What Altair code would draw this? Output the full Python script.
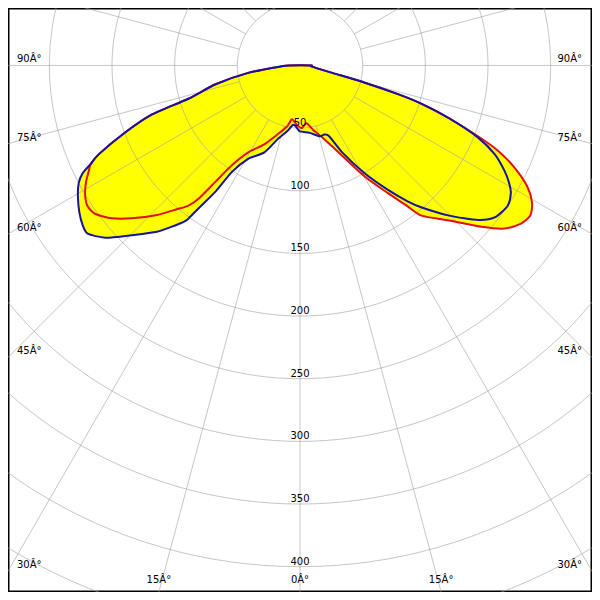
import math
import altair as alt
import pandas as pd

# ---- data (angle in degrees from nadir, intensity) ----
blue_angle = [-90, -87, -81.8, -77.4, -73.4, -71.6, -69, -66.2, -64.8, -63.6,
              -62, -59.5, -56.3, -53.6, -51.6, -48.5, -44.8, -40.7, -37.8, -36.7,
              -36.1, -35.3, -33.8, -32.6, -29, -22.3, -17, -11.1, -6.3, -1.5,
              0, 8.2, 15.4, 19.4, 22.4, 25.9, 31, 35.2, 38.3, 40.6,
              44.8, 49.1, 52, 55.9, 58.8, 60.6, 62.8, 65.5, 67.9, 70.5,
              72.5, 73.7, 75.1, 77, 85, 90]
blue_value = [9, 15.6, 41.8, 69, 93, 125.5, 149.8, 175.4, 184.5, 193.7,
              200, 205.7, 211.6, 215.3, 216.2, 207.4, 190.9, 175.1, 161.1, 156,
              151.6, 138.9, 120.9, 100.8, 85.3, 75, 61.7, 53.6, 47.7, 51.3,
              52.6, 54.4, 58.6, 58.5, 61.1, 77.1, 100.6, 121.3, 137.9, 149.3,
              168.9, 188.3, 197, 200, 196.7, 191.6, 183.3, 170.7, 153.6, 126.3,
              101.8, 80.9, 53.6, 26.5, 9, 9]

red_angle = [-90, -87, -81.8, -77.4, -73.4, -71.6, -69, -66.2, -64.8, -63.6,
             -61.2, -58.7, -56.5, -54, -50.9, -47.8, -43.7, -40.6, -38.6, -37.2,
             -36, -34.3, -30.8, -24.4, -18.2, -12, -8.5, -3.1, 1.5, 6.4,
             11.4, 17.4, 25, 30.3, 34.5, 37.3, 39, 43.9, 48.4, 51.4,
             54.3, 56.9, 59.4, 62, 64.6, 66.7, 68.3, 70.5, 72.5, 73.7,
             75.1, 77, 85, 90]
red_value = [9, 15.6, 41.8, 69, 93, 125.5, 149.8, 175.4, 184.5, 188,
             195, 200.6, 203.3, 201.7, 193.4, 181.6, 165, 151.1, 143.3, 132.7,
             114.6, 96.5, 80.8, 69.1, 58, 49.8, 43.4, 47.5, 50, 46.4,
             52.3, 60.5, 79.5, 102.8, 123.4, 140.9, 154.2, 171.7, 194, 208.7,
             216.7, 219.4, 215.1, 205.3, 189.1, 172, 152.9, 126.3, 101.8, 80.9,
             53.6, 26.5, 9, 9]

ring_values = [50, 100, 150, 200, 250, 300, 350, 400, 450]
ring_label_values = [50, 100, 150, 200, 250, 300, 350, 400]
spoke_angles = list(range(0, 360, 15))
side_label_angles = [90, 75, 60, 45, 30]
bottom_label_angles = [-15, 0, 15]

# ---- frame geometry (units of the intensity axis) ----
K = 1.2875                 # pixels per unit in the reference
XMAX = 300 / K
YTOP = 59 / K
YBOT = -541 / K
SIZE = 584


def polar(v, a):
    t = math.radians(a)
    return v * math.sin(t), -v * math.cos(t)


def curve_df(angles, values, name):
    rows = []
    for i, (a, v) in enumerate(zip(angles, values)):
        x, y = polar(v, a)
        rows.append({"i": i, "x": x, "y": y, "curve": name})
    return pd.DataFrame(rows)


blue = curve_df(blue_angle, blue_value, "blue")
red = curve_df(red_angle, red_value, "red")
both = pd.concat([red, blue], ignore_index=True)

ring_rows = []
for r in ring_values:
    for j, phi in enumerate(range(0, 360, 2)):
        x, y = polar(r, phi)
        ring_rows.append({"ring": r, "j": j, "x": x, "y": y})
rings = pd.DataFrame(ring_rows)

spoke_rows = []
for a in spoke_angles:
    x1, y1 = polar(ring_values[0], a)
    x2, y2 = polar(800, a)
    spoke_rows.append({"x": x1, "y": y1, "x2": x2, "y2": y2})
spokes = pd.DataFrame(spoke_rows)

ring_lab = pd.DataFrame({"x": [0.0] * len(ring_label_values),
                         "y": [-r for r in ring_label_values],
                         "t": [str(r) for r in ring_label_values]})

left_rows, right_rows, bottom_rows = [], [], []
for a in side_label_angles:
    t = XMAX / math.sin(math.radians(a))
    y = -t * math.cos(math.radians(a))
    left_rows.append({"x": -XMAX, "y": y, "t": f"{a}Â°"})
    right_rows.append({"x": XMAX, "y": y, "t": f"{a}Â°"})
for a in bottom_label_angles:
    t = -YBOT / math.cos(math.radians(a))
    bottom_rows.append({"x": t * math.sin(math.radians(a)), "y": YBOT, "t": f"{abs(a)}Â°"})
left_lab = pd.DataFrame(left_rows)
right_lab = pd.DataFrame(right_rows)
bottom_lab = pd.DataFrame(bottom_rows)

xs = alt.Scale(domain=[-XMAX, XMAX], nice=False, zero=False)
ys = alt.Scale(domain=[YBOT, YTOP], nice=False, zero=False)
X = alt.X("x:Q", scale=xs, axis=None)
Y = alt.Y("y:Q", scale=ys, axis=None)

INTERP = dict(interpolate="cardinal-closed", tension=0.3)

fill = alt.Chart(both).mark_line(
    fill="#FFFF00", strokeOpacity=0, clip=True, **INTERP
).encode(x=X, y=Y, order="i:Q", detail="curve:N")

ring_layer = alt.Chart(rings).mark_line(
    interpolate="linear-closed", color="#A0A0A0", strokeWidth=1, opacity=0.6, clip=True
).encode(x=X, y=Y, order="j:Q", detail="ring:N")

spoke_layer = alt.Chart(spokes).mark_rule(
    color="#A0A0A0", strokeWidth=1, opacity=0.6, clip=True
).encode(x=X, y=Y, x2="x2:Q", y2="y2:Q")

red_line = alt.Chart(red).mark_line(
    color="#E01010", strokeWidth=2, clip=True, **INTERP
).encode(x=X, y=Y, order="i:Q")

blue_line = alt.Chart(blue).mark_line(
    color="#1414A0", strokeWidth=2, clip=True, **INTERP
).encode(x=X, y=Y, order="i:Q")

FONT = "DejaVu Sans"
ring_text = alt.Chart(ring_lab).mark_text(
    font=FONT, fontSize=10, color="black", baseline="alphabetic", dy=-2
).encode(x=X, y=Y, text="t:N")

left_text = alt.Chart(left_lab).mark_text(
    font=FONT, fontSize=10, color="black", align="left", baseline="middle", dx=9, dy=-6
).encode(x=X, y=Y, text="t:N")

right_text = alt.Chart(right_lab).mark_text(
    font=FONT, fontSize=10, color="black", align="right", baseline="middle", dx=-10, dy=-6
).encode(x=X, y=Y, text="t:N")

bottom_text = alt.Chart(bottom_lab).mark_text(
    font=FONT, fontSize=10, color="black", align="center", baseline="middle", dy=-12
).encode(x=X, y=Y, text="t:N")

chart = alt.layer(
    fill, ring_layer, spoke_layer, red_line, blue_line,
    ring_text, left_text, right_text, bottom_text
).properties(
    width=SIZE, height=SIZE, padding=0, background="white"
).configure_view(stroke="black", strokeWidth=3)

chart.save("out.html", embed_options={"renderer": "svg", "actions": False})
